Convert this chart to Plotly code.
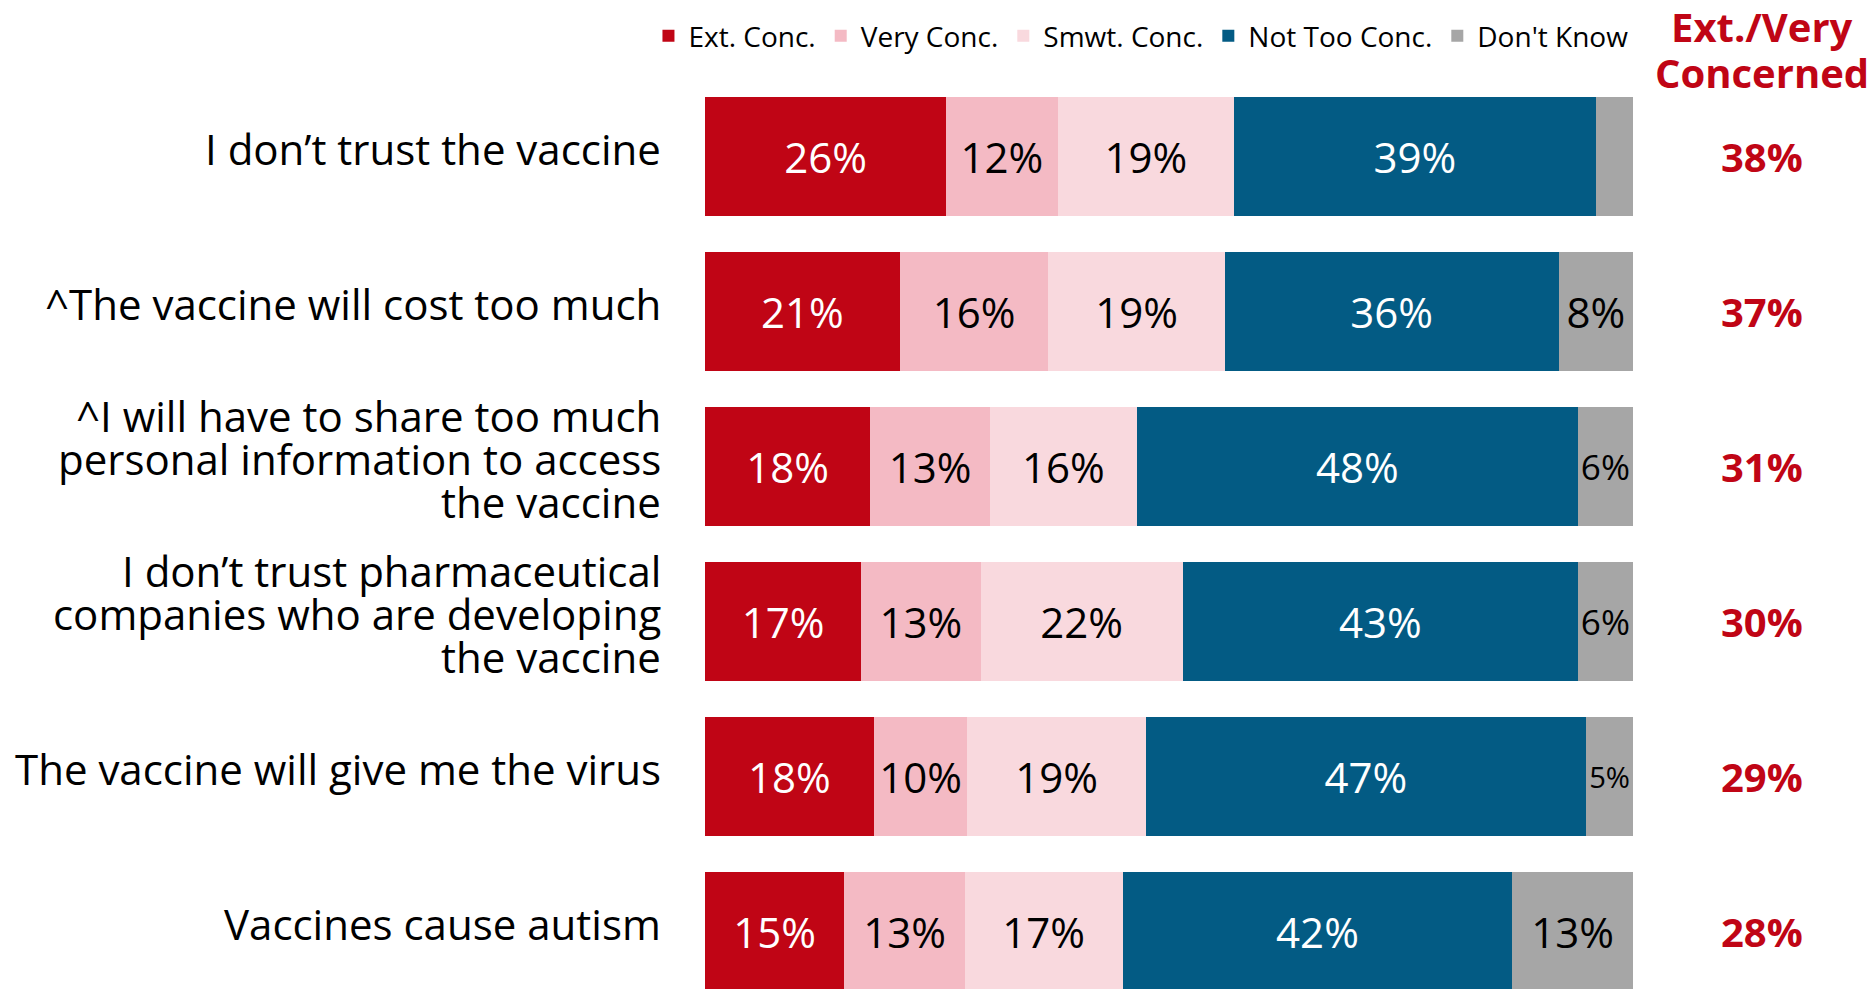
import plotly.graph_objects as go

categories = [
    "I don’t trust the vaccine",
    "^The vaccine will cost too much",
    "^I will have to share too much<br>personal information to access<br>the vaccine",
    "I don’t trust pharmaceutical<br>companies who are developing<br>the vaccine",
    "The vaccine will give me the virus",
    "Vaccines cause autism",
]
series_names = ["Ext. Conc.", "Very Conc.", "Smwt. Conc.", "Not Too Conc.", "Don't Know"]
ext_conc = [26, 21, 18, 17, 18, 15]
very_conc = [12, 16, 13, 13, 10, 13]
smwt_conc = [19, 19, 16, 22, 19, 17]
not_too_conc = [39, 36, 48, 43, 47, 42]
dont_know = [4, 8, 6, 6, 5, 13]
dont_know_labels = ["", "8%", "6%", "6%", "5%", "13%"]
ext_very_total = [38, 37, 31, 30, 29, 28]
header_lines = ["Ext./Very", "Concerned"]

colors = ["#C00515", "#F4BAC4", "#F9D9DE", "#035B84", "#A6A6A6"]
text_colors = ["white", "black", "black", "white", "black"]
FONT = "Open Sans"
RED = "#C00515"

values = [ext_conc, very_conc, smwt_conc, not_too_conc, dont_know]
labels = [
    [f"{v}%" for v in ext_conc],
    [f"{v}%" for v in very_conc],
    [f"{v}%" for v in smwt_conc],
    [f"{v}%" for v in not_too_conc],
    dont_know_labels,
]

fig = go.Figure()
for name, vals, txt, col, tcol in zip(series_names, values, labels, colors, text_colors):
    fig.add_trace(go.Bar(
        y=categories, x=vals, name=name, orientation="h",
        marker=dict(color=col, line=dict(width=0)),
        text=txt, textposition="inside", insidetextanchor="middle", textangle=0,
        textfont=dict(family=FONT, size=42, color=tcol),
        hoverinfo="skip",
    ))

W, H = 1870, 989
ML, MR, MT, MB = 705, 237, 79, 0
plot_w = W - ML - MR
plot_h = H - MT - MB
row_px = 155.04
y_bottom = -0.5 + plot_h / row_px
LINE_PX = 42.8

annotations = []
# category labels, line by line (tight line spacing as in the reference)
for cat in categories:
    lines = cat.split("<br>")
    n = len(lines)
    for i, ln in enumerate(lines):
        annotations.append(dict(
            x=0, xref="paper", xanchor="right", xshift=-42,
            y=cat, yref="y", yanchor="middle", yshift=8 + ((n - 1) / 2 - i) * LINE_PX,
            text=ln, showarrow=False,
            font=dict(family=FONT, size=42, color="black"),
        ))

xr = (1762 - ML) / plot_w
for cat, v in zip(categories, ext_very_total):
    annotations.append(dict(
        x=xr, xref="paper", y=cat, yref="y", text=f"<b>{v}%</b>", showarrow=False,
        font=dict(family=FONT, size=40, color=RED), xanchor="center", yanchor="middle",
    ))
for ln, ypx in zip(header_lines, [27, 72]):
    annotations.append(dict(
        x=xr, xref="paper", y=1 + (MT - ypx) / plot_h, yref="paper", text=f"<b>{ln}</b>",
        showarrow=False, font=dict(family=FONT, size=40, color=RED),
        xanchor="center", yanchor="middle",
    ))

fig.update_layout(
    width=W, height=H,
    margin=dict(l=ML, r=MR, t=MT, b=MB, pad=0),
    barmode="stack", barnorm="percent", bargap=0.232,
    plot_bgcolor="white", paper_bgcolor="white",
    font=dict(family=FONT, color="black"),
    xaxis=dict(range=[0, 100], visible=False, fixedrange=True),
    yaxis=dict(
        type="category", range=[y_bottom, -0.5], autorange=False,
        showgrid=False, zeroline=False, showline=False, ticks="",
        showticklabels=False, fixedrange=True,
    ),
    legend=dict(
        orientation="h", x=1.0005, xanchor="right", y=1 + (MT - 36) / plot_h, yanchor="middle",
        font=dict(family=FONT, size=28, color="black"), traceorder="normal",
        itemclick=False, itemdoubleclick=False,
    ),
    annotations=annotations,
    showlegend=True,
)

fig.write_html("out.html", config={"displayModeBar": False},
               post_script="document.body.style.margin='0px';document.body.style.overflow='hidden';")
